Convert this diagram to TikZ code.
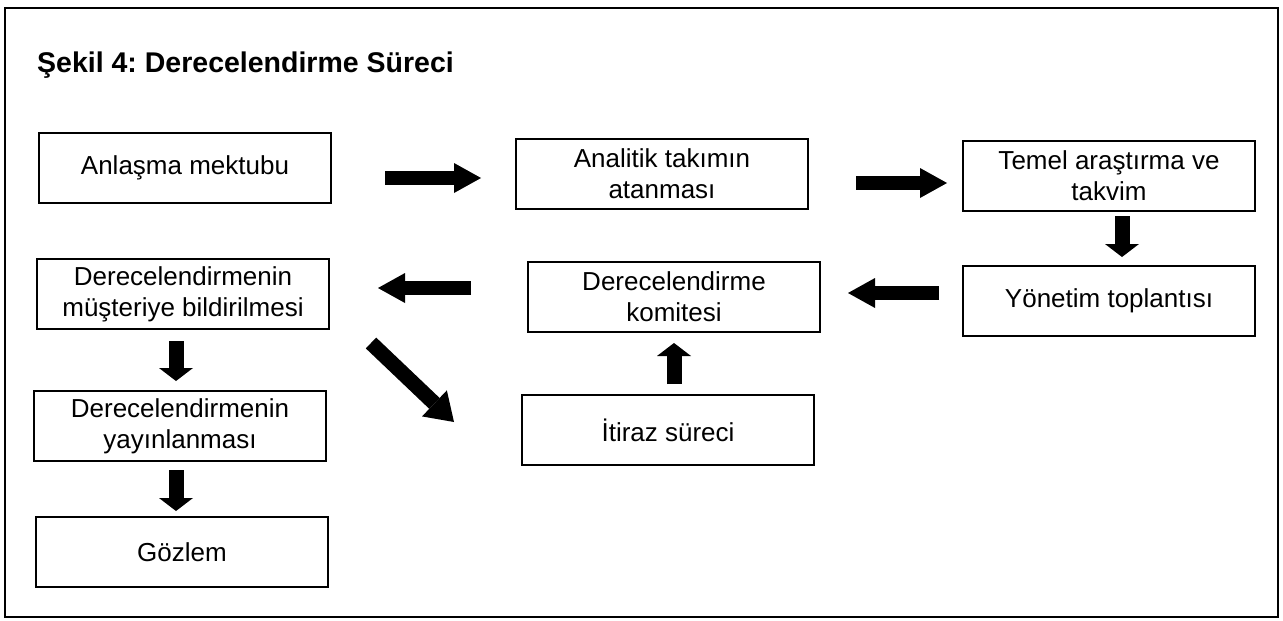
\documentclass[tikz,border=0pt]{standalone}
\usepackage{fontspec}
\setmainfont{Liberation Sans}
\frenchspacing
\usetikzlibrary{arrows.meta}
\tikzset{
  stepbox/.style={draw, line width=2pt, minimum width=292pt, minimum height=70pt, align=center, inner sep=0pt, font=\fontsize{26}{31}\selectfont},
  fatarrow/.style={line width=14pt, -{Triangle[length=27pt,width=30pt,line width=0pt]}},
  downarrow/.style={line width=15pt, -{Triangle[length=13pt,width=34pt,line width=0pt]}},
  diagarrow/.style={line width=15pt, -{Triangle[length=27pt,width=36pt,line width=0pt]}},
  outerframe/.style={draw, line width=2pt}
}
\begin{document}
\begin{tikzpicture}[x=1pt,y=-1pt]
  \useasboundingbox (0,0) rectangle (1283,621);
  \draw[outerframe] (5,8) rectangle (1278,617);
  \node[anchor=base west, inner sep=0pt, font=\fontsize{28.5}{32}\selectfont\bfseries] (title) at (37,72) {Şekil 4: Derecelendirme Süreci};
  \node[stepbox] (letter) at (185,168) {Anlaşma mektubu};
  \node[stepbox] (team) at (662,174) {Analitik takımın\\atanması};
  \node[stepbox] (research) at (1109,176) {Temel araştırma ve\\takvim};
  \node[stepbox] (meeting) at (1109,301) {Yönetim toplantısı};
  \node[stepbox] (committee) at (674,297) {Derecelendirme\\komitesi};
  \node[stepbox] (notify) at (183,294) {Derecelendirmenin\\müşteriye bildirilmesi};
  \node[stepbox] (publish) at (180,426) {Derecelendirmenin\\yayınlanması};
  \node[stepbox] (monitor) at (182,552) {Gözlem};
  \node[stepbox] (appeal) at (668,430) {İtiraz süreci};
  \draw[fatarrow] ([xshift=53pt,yshift=-10pt]letter.east) -- ([xshift=-34pt,yshift=-4pt]team.west);
  \draw[fatarrow] ([xshift=47pt,yshift=-9pt]team.east) -- ([xshift=-15pt,yshift=-7pt]research.west);
  \draw[downarrow] ([xshift=13pt,yshift=-4pt]research.south) -- ([xshift=13pt,yshift=8pt]meeting.north);
  \draw[fatarrow] ([xshift=-23pt,yshift=8pt]meeting.west) -- ([xshift=27pt,yshift=4pt]committee.east);
  \draw[fatarrow] ([xshift=-56pt,yshift=9pt]committee.west) -- ([xshift=48pt,yshift=6pt]notify.east);
  \draw[downarrow] ([xshift=-7pt,yshift=-11pt]notify.south) -- ([xshift=-4pt,yshift=9pt]publish.north);
  \draw[downarrow] ([xshift=-4pt,yshift=-8pt]publish.south) -- ([xshift=-6pt,yshift=5pt]monitor.north);
  \draw[diagarrow] ([xshift=41pt,yshift=-13pt]notify.south east) -- ([xshift=-67pt,yshift=-28pt]appeal.north west);
  \draw[downarrow] ([xshift=6pt,yshift=10pt]appeal.north) -- ([yshift=-10pt]committee.south);
\end{tikzpicture}
\end{document}
